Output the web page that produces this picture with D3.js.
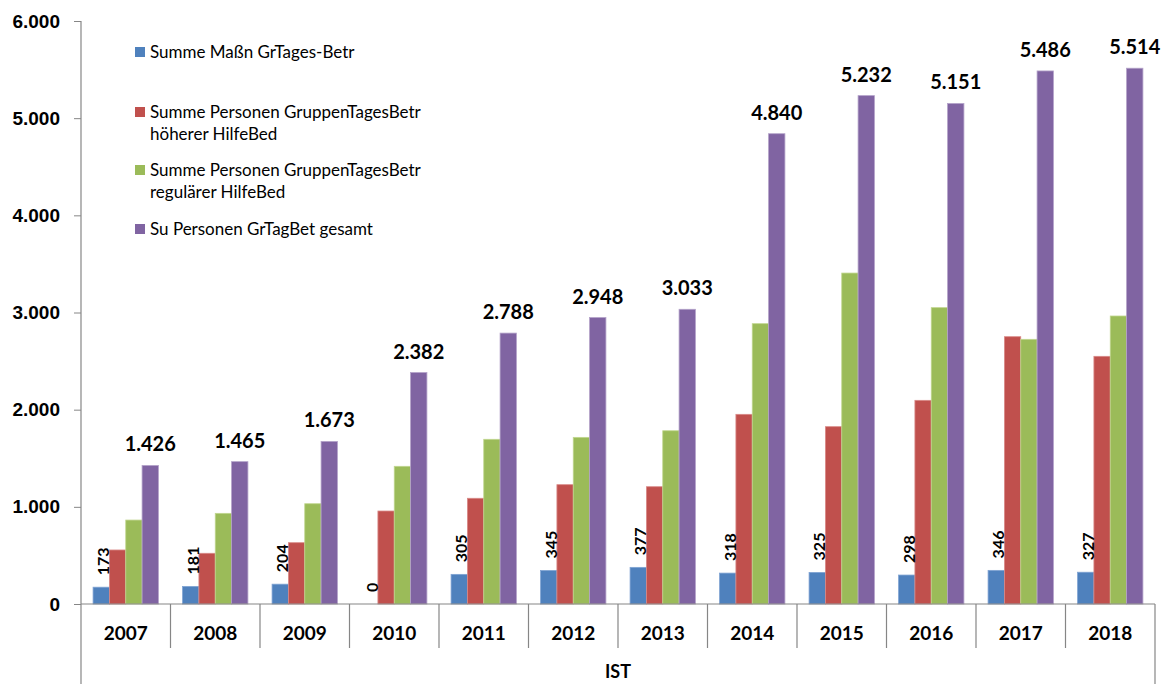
<!DOCTYPE html>
<html>
<head>
<meta charset="utf-8">
<script src="https://cdn.jsdelivr.net/npm/d3@7"></script>
<style>
  html, body { margin: 0; padding: 0; background: #fff; }
  svg { display: block; font-family: Lato, "Open Sans", "Liberation Sans", sans-serif; }
</style>
</head>
<body>
<svg id="chart" width="1162" height="684"></svg>
<script>
// Years on the category axis
const years = ["2007","2008","2009","2010","2011","2012","2013","2014","2015","2016","2017","2018"];

// Series values per year
const massnahmen    = [173, 181, 204, 0, 305, 345, 377, 318, 325, 298, 346, 327];
const hoehererBed   = [556, 522, 631, 957, 1088, 1228, 1207, 1952, 1825, 2096, 2751, 2549];
const regulaererBed = [864, 933, 1032, 1417, 1695, 1715, 1783, 2885, 3406, 3050, 2724, 2964];
const gesamt        = [1426, 1465, 1673, 2382, 2788, 2948, 3033, 4840, 5232, 5151, 5486, 5514];

const seriesNames = [
  ["Summe Maßn GrTages-Betr"],
  ["Summe Personen GruppenTagesBetr", "höherer HilfeBed"],
  ["Summe Personen GruppenTagesBetr", "regulärer HilfeBed"],
  ["Su Personen GrTagBet gesamt"]
];
const seriesColors = ["#4F81BD", "#C0504D", "#9BBB59", "#8064A2"];
const seriesEdges  = ["#7fa3d3", "#d98a88", "#c0d68f", "#b3a2c9"];
const yTicks = [0, 1000, 2000, 3000, 4000, 5000, 6000];
const axisTitle = "IST";

(function draw() {
  const seriesData = [massnahmen, hoehererBed, regulaererBed, gesamt];
  const fmt = v => d3.format(",")(v).replace(/,/g, ".");

  const svg = d3.select("#chart");
  const plotLeft = 81, plotRight = 1155, plotTop = 21, base = 604;

  const x = d3.scaleBand().domain(years).range([plotLeft, plotRight]).paddingInner(0.27).paddingOuter(0.135);
  const xOuter = d3.scaleBand().domain(years).range([plotLeft, plotRight]);
  const xs = d3.scaleBand().domain(d3.range(4)).range([0, x.bandwidth()]);
  const y = d3.scaleLinear().domain([0, 6000]).range([base, plotTop]);

  const axisColor = "#868686";

  // Bars
  seriesData.forEach((vals, si) => {
    svg.append("g").selectAll("rect")
      .data(vals)
      .join("rect")
      .attr("x", (d, i) => x(years[i]) + xs(si))
      .attr("y", d => y(d))
      .attr("width", xs.bandwidth())
      .attr("height", d => base - y(d))
      .attr("fill", seriesColors[si])
      .attr("stroke", seriesEdges[si])
      .attr("stroke-width", 0.8);
  });

  // Y axis
  const yAxis = d3.axisLeft(y).tickValues(yTicks).tickSize(7).tickPadding(14)
    .tickFormat(d => fmt(d));
  const gy = svg.append("g").attr("transform", `translate(${plotLeft},0)`).call(yAxis);
  gy.select(".domain").remove();
  gy.selectAll(".tick line").attr("stroke", axisColor);
  gy.selectAll(".tick text").attr("font-size", 19).attr("font-weight", "bold").attr("fill", "#000");
  svg.append("line").attr("x1", plotLeft).attr("x2", plotLeft).attr("y1", plotTop).attr("y2", 684)
    .attr("stroke", axisColor).attr("stroke-width", 1.2);

  // X axis base line, category separators
  svg.append("line").attr("x1", plotLeft).attr("x2", plotRight).attr("y1", base).attr("y2", base)
    .attr("stroke", axisColor).attr("stroke-width", 1.2);
  svg.append("g").selectAll("line")
    .data(years.slice(1))
    .join("line")
    .attr("x1", d => xOuter(d)).attr("x2", d => xOuter(d))
    .attr("y1", base).attr("y2", 648)
    .attr("stroke", axisColor).attr("stroke-width", 1.2);
  svg.append("line").attr("x1", plotRight).attr("x2", plotRight).attr("y1", base).attr("y2", 684)
    .attr("stroke", axisColor).attr("stroke-width", 1.2);

  // Year labels
  svg.append("g").selectAll("text")
    .data(years)
    .join("text")
    .attr("x", d => xOuter(d) + xOuter.bandwidth() / 2)
    .attr("y", 640)
    .attr("text-anchor", "middle")
    .attr("font-size", 19).attr("font-weight", "bold")
    .text(d => d);

  svg.append("text")
    .attr("x", (plotLeft + plotRight) / 2).attr("y", 678)
    .attr("text-anchor", "middle")
    .attr("font-size", 18).attr("font-weight", "bold")
    .text(axisTitle);

  // Total labels above purple bars
  svg.append("g").selectAll("text")
    .data(gesamt)
    .join("text")
    .attr("x", (d, i) => x(years[i]) + xs(3) + xs.bandwidth() / 2)
    .attr("y", d => y(d) - 14)
    .attr("text-anchor", "middle")
    .attr("font-size", 20).attr("font-weight", "bold")
    .text(d => fmt(d));

  // Rotated labels above blue bars
  svg.append("g").selectAll("text")
    .data(massnahmen)
    .join("text")
    .attr("transform", (d, i) => {
      const cx = x(years[i]) + xs(0) + xs.bandwidth();
      return `translate(${cx},${y(d) - 12}) rotate(-90)`;
    })
    .attr("text-anchor", "start")
    .attr("font-size", 16).attr("font-weight", "bold")
    .text(d => fmt(d));

  // Legend
  const legendRows = [52, 112, 170, 229];
  const legend = svg.append("g");
  seriesNames.forEach((lines, i) => {
    const yy = legendRows[i];
    legend.append("rect")
      .attr("x", 135).attr("y", yy - 5).attr("width", 10).attr("height", 10)
      .attr("fill", seriesColors[i]);
    lines.forEach((t, j) => {
      legend.append("text")
        .attr("x", 150).attr("y", yy + 6 + j * 22)
        .attr("font-size", 17).attr("fill", "#000")
        .text(t);
    });
  });
})();
</script>
</body>
</html>
